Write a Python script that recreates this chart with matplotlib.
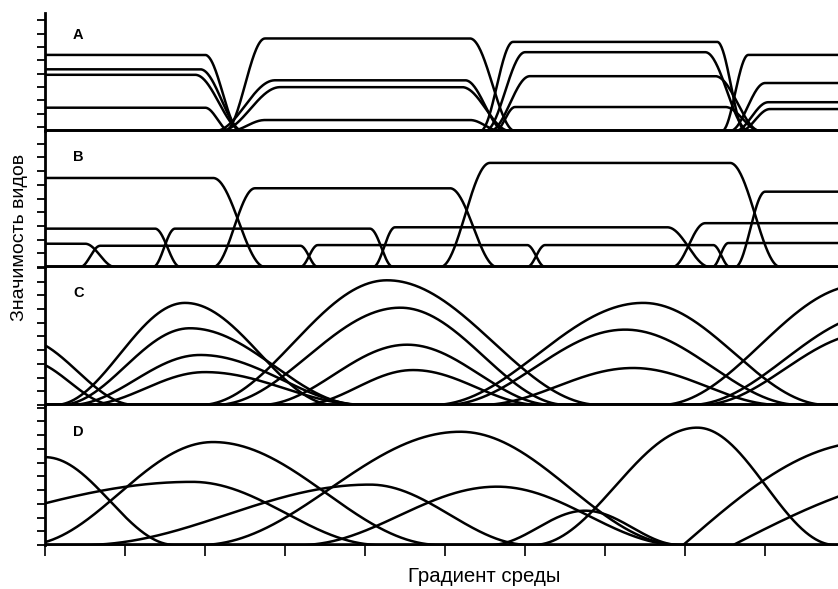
import numpy as np
import matplotlib.pyplot as plt

plt.rcParams['font.family'] = ['Liberation Sans', 'DejaVu Sans']

# gradient runs 0..99, importance in tick units
# A, B: species with sharp limits -> (rise from, rise to, fall from, fall to, height)
panel_a = [
    (-10, -5, 20.0, 24.4, 5.55), (-10, -5, 19.4, 24.75, 4.5),
    (-10, -5, 18.75, 24.75, 4.1), (-10, -5, 20.0, 23.1, 1.7),
    (22.5, 27.5, 53.1, 58.75, 6.75), (21.25, 28.75, 52.5, 57.5, 3.7),
    (21.9, 29.4, 52.1, 58.1, 3.2), (23.1, 27.5, 53.1, 56.9, 0.8),
    (54.4, 58.5, 84.0, 87.5, 6.5), (55.0, 60.0, 82.5, 88.0, 5.75),
    (55.6, 60.6, 83.75, 89.4, 4.0), (56.25, 58.75, 85.0, 89.4, 1.75),
    (84.6, 87.9, 110, 115, 5.55), (85.6, 90.0, 110, 115, 3.5),
    (86.25, 90.4, 110, 115, 2.1), (86.9, 90.6, 110, 115, 1.6),
]
panel_b = [
    (-10, -5, 21.0, 27.5, 6.5), (21.0, 26.25, 50.6, 56.5, 5.75),
    (-10, -5, 13.75, 16.9, 2.8), (-10, -5, 5.0, 8.75, 1.7),
    (4.4, 6.9, 31.9, 34.1, 1.55), (13.5, 16.25, 40.6, 43.5, 2.8),
    (31.9, 34.1, 60.25, 62.5, 1.6), (41.0, 43.75, 77.75, 83.1, 2.9),
    (49.4, 55.6, 85.6, 91.9, 7.6), (60.25, 62.5, 83.5, 85.6, 1.6),
    (78.4, 82.5, 110, 115, 3.2), (83.4, 85.4, 110, 115, 1.75),
    (86.25, 90.0, 110, 115, 5.5),
]
# C, D: bell-shaped species -> (start, peak, end, height, steepness)
panel_c = [
    (-10, -3.1, 11.25, 4.9, 2), (-10, -2.5, 8.75, 3.3, 2),
    (1.25, 17.5, 36.25, 7.45, 2), (1.9, 18.1, 39.4, 5.6, 2),
    (3.1, 19.4, 40.0, 3.65, 2), (5.0, 20.0, 40.0, 2.4, 2),
    (19.4, 42.75, 69.4, 9.1, 2), (21.25, 44.4, 65.25, 7.1, 2),
    (26.9, 45.25, 63.5, 4.4, 2), (31.9, 46.0, 61.9, 2.55, 2),
    (48.5, 74.75, 97.75, 7.45, 2), (50.0, 72.5, 94.4, 5.5, 2),
    (54.4, 73.5, 91.9, 2.7, 2),
    (76.9, 101.9, 130, 8.75, 2), (80.6, 104.4, 130, 6.7, 2),
    (81.9, 103.0, 130, 5.25, 2),
]
panel_d = [
    (-20, 0.0, 16.25, 6.4, 2), (-28, 18.4, 41.9, 4.6, 2),
    (-2.5, 21.0, 49.4, 7.5, 2), (4.75, 40.6, 60.6, 4.4, 2),
    (19.4, 51.9, 79.4, 8.25, 2), (31.9, 56.5, 79.4, 4.25, 2),
    (61.0, 81.5, 98.75, 8.55, 2), (55.6, 67.5, 79.4, 2.5, 2),
    (79.75, 103.0, 130, 7.5, 1), (86.0, 113.0, 140, 5.1, 1),
]
letters = ['A', 'B', 'C', 'D']


def plateau(x, r0, r1, f0, f1, h):
    up = np.clip((x - r0) / (r1 - r0), 0, 1)
    down = np.clip((f1 - x) / (f1 - f0), 0, 1)
    return h * (0.5 - 0.5 * np.cos(np.pi * up)) * (0.5 - 0.5 * np.cos(np.pi * down))


def bell(x, x0, xp, x1, h, p):
    t = np.where(x < xp, (xp - x) / (xp - x0), (x - xp) / (x1 - xp))
    t = np.clip(t, 0, 1)
    return h * np.cos(np.pi / 2 * t) ** p


x = np.linspace(0, 99.2, 1200)
fig = plt.figure(figsize=(8.38, 5.89), dpi=100)

# [bottom, height] in figure fraction, y upper limit
boxes = [(0.7776, 0.2004, 8.61), (0.5467, 0.2309, 9.93),
         (0.3124, 0.2343, 10.07), (0.0747, 0.2377, 10.2)]
left = 0.0537
axs = []
for (b, hgt, ytop), letter in zip(boxes, letters):
    ax = fig.add_axes([left, b, 1 - left, hgt])
    ax.set_xlim(0, 99.1)
    ax.set_ylim(0, ytop)
    for s in ['top', 'right']:
        ax.spines[s].set_visible(False)
    ax.spines['left'].set_linewidth(2.0)
    ax.spines['bottom'].set_linewidth(1.4)
    ax.set_yticks(np.arange(0, ytop, 1.0))
    ax.tick_params(axis='y', direction='out', length=6, width=1.3, labelleft=False)
    ax.tick_params(axis='x', bottom=False, labelbottom=False)
    ax.patch.set_alpha(0)
    ax.text(0.042, 0.81, letter, transform=ax.transAxes, fontsize=10.5,
            fontweight='bold', ha='center', va='center')
    axs.append(ax)

for sp in panel_a:
    axs[0].plot(x, plateau(x, *sp), color='black', lw=1.8)
for sp in panel_b:
    axs[1].plot(x, plateau(x, *sp), color='black', lw=1.8)
for sp in panel_c:
    axs[2].plot(x, bell(x, *sp), color='black', lw=1.8)
for sp in panel_d:
    axs[3].plot(x, bell(x, *sp), color='black', lw=1.8)

axs[0].set_yticks(np.arange(0.3, 8.6, 0.97))
axs[3].set_xticks(np.arange(0, 91, 10))
axs[3].tick_params(axis='x', bottom=True, direction='out', length=8, width=1.2)

fig.text(0.023, 0.597, 'Значимость видов', rotation=90, ha='center', va='center',
         fontsize=14)
fig.text(0.578, 0.022, 'Градиент среды', ha='center', va='center', fontsize=14.7)

fig.savefig('out.png', dpi=100)
